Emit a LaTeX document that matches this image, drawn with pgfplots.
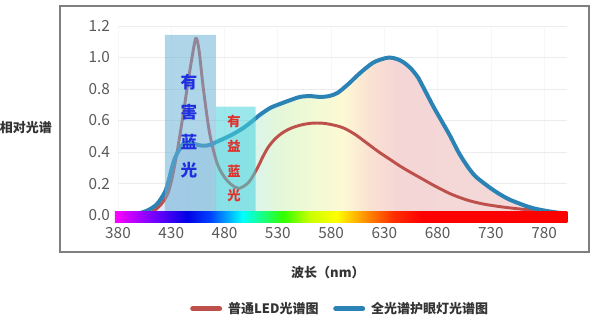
\documentclass[border=0pt]{standalone}
\usepackage{fontspec}
\setmainfont{Noto Sans CJK SC}
\usepackage{pgfplots}
\pgfplotsset{compat=1.18}

\definecolor{redc}{HTML}{BE504B}
\definecolor{bluec}{HTML}{2A82B5}
\definecolor{boxblue}{RGB}{110,178,214}
\definecolor{boxcyan}{RGB}{72,212,220}
\definecolor{tickc}{HTML}{595959}
\definecolor{framec}{HTML}{7F7F7F}
\definecolor{harmc}{HTML}{1F2FE0}
\definecolor{goodc}{HTML}{E0302A}

\definecolor{sp1}{HTML}{FF00FF}
\definecolor{sp2}{HTML}{8000FF}
\definecolor{sp3}{HTML}{0000E6}
\definecolor{sp4}{HTML}{0040FF}
\definecolor{sp5}{HTML}{00FFFF}
\definecolor{sp6}{HTML}{30FF00}
\definecolor{sp7}{HTML}{C8FF00}
\definecolor{sp8}{HTML}{FFFF00}
\definecolor{sp9}{HTML}{FF9900}
\definecolor{sp10}{HTML}{FF3000}
\definecolor{sp11}{HTML}{FF0000}
\pgfdeclarehorizontalshading{spectrum}{100bp}{color(0bp)=(sp1); color(25bp)=(sp1); color(28.9bp)=(sp2); color(33bp)=(sp3); color(35.5bp)=(sp4); color(39.1bp)=(sp5); color(43.6bp)=(sp6); color(46.5bp)=(sp7); color(49.5bp)=(sp8); color(52.4bp)=(sp9); color(55.7bp)=(sp10); color(58.9bp)=(sp11); color(75bp)=(sp11); color(100bp)=(sp11)}

\definecolor{pp1}{HTML}{F0E8F8}
\definecolor{pp2}{HTML}{DDE8F8}
\definecolor{pp3}{HTML}{D8F4F0}
\definecolor{pp4}{HTML}{E4F7D8}
\definecolor{pp5}{HTML}{F0FAD4}
\definecolor{pp6}{HTML}{FDF9D4}
\definecolor{pp7}{HTML}{FAE2D2}
\definecolor{pp8}{HTML}{F5D6D6}
\definecolor{pp9}{HTML}{F3D8D8}
\pgfdeclarehorizontalshading{palespec}{100bp}{color(0bp)=(pp1); color(25bp)=(pp1); color(32.2bp)=(pp2); color(39.5bp)=(pp3); color(43.1bp)=(pp4); color(46.7bp)=(pp5); color(50.3bp)=(pp6); color(53.3bp)=(pp7); color(56.3bp)=(pp8); color(75bp)=(pp9); color(100bp)=(pp9)}

\pgfplotstableread{
x y
380 0
390 0.002
400 0.012
408 0.03
416 0.065
421 0.11
425 0.16
428 0.23
431 0.31
434 0.37
438 0.42
441 0.45
445 0.46
450 0.455
455 0.445
460 0.44
466 0.445
476 0.475
487 0.51
497 0.55
505 0.59
513 0.635
523 0.68
532 0.705
542 0.73
551 0.75
560 0.755
570 0.75
578 0.755
586 0.775
596 0.83
607 0.90
619 0.965
628 0.99
635 1.0
642 0.99
648 0.97
655 0.93
661 0.88
664 0.845
676 0.69
684 0.595
692 0.50
700 0.395
708 0.31
715 0.25
723 0.205
731 0.165
739 0.13
747 0.10
755 0.078
762 0.06
770 0.043
780 0.029
790 0.018
797 0.012
}\fullspec

\pgfplotstableread{
x y
380 0
395 0.002
405 0.006
412 0.02
418 0.05
423 0.09
427 0.14
431 0.24
436 0.42
441 0.63
445 0.81
449 0.98
453 1.12
456 1.05
460 0.81
466 0.52
473 0.33
480 0.24
487 0.19
494 0.17
503 0.21
511 0.30
516 0.37
521 0.43
527 0.48
534 0.52
542 0.55
552 0.572
562 0.583
572 0.583
582 0.572
592 0.552
603 0.51
614 0.455
625 0.40
635 0.355
645 0.31
655 0.27
665 0.232
676 0.19
692 0.135
708 0.095
723 0.07
740 0.052
755 0.04
770 0.03
785 0.018
795 0.01
}\ledspec

\begin{document}
\begin{tikzpicture}
\path[use as bounding box] (-88.5pt,-78.8pt) rectangle (358.5pt,167.2pt);
\draw[framec, line width=1.1pt] (-43.5pt,-21.8pt) rectangle (353.25pt,162.7pt);
\begin{axis}[
  at={(0,0)}, anchor=south west,
  scale only axis, width=337.1pt, height=147.7pt,
  xmin=380, xmax=802, ymin=-0.05, ymax=1.2,
  clip=false,
  axis line style={draw=none},
  major tick length=0pt,
  xtick={380,430,480,530,580,630,680,730,780},
  ytick={0,0.2,0.4,0.6,0.8,1.0,1.2},
  xmajorgrids, ymajorgrids,
  x grid style={gray!6},
  y grid style={gray!15},
  /pgf/number format/assume math mode=true,
  /pgf/number format/1000 sep={},
  ticklabel style={font=\fontsize{11.5}{12}\selectfont, text=tickc},
  yticklabel style={xshift=-2.5pt, /pgf/number format/fixed, /pgf/number format/fixed zerofill, /pgf/number format/precision=1},
  xlabel={波长（nm）},
  xlabel style={at={(axis description cs:0.467,-0.2525)}, anchor=center, font=\bfseries\fontsize{9.75}{10}\selectfont, text=black!80},
  ylabel={相对光谱},
  ylabel style={rotate=-90, at={(axis description cs:-0.2047,0.482)}, anchor=center, font=\bfseries\fontsize{9.75}{10}\selectfont, text=black!80},
  legend columns=2,
  legend image code/.code={\draw[#1, line width=3.75pt, line cap=round] (1.9pt,0pt) -- (22.1pt,0pt);},
  legend style={draw=none, fill=none, inner sep=0pt, at={(0.160,-0.436)}, anchor=west,
    font=\bfseries\fontsize{9.75}{10}\selectfont, text=black!80,
    nodes={inner sep=0pt}, column sep=4.5pt,
    /tikz/every even column/.append style={column sep=11pt}},
]
% pale spectrum area under full-spectrum curve
\addplot[draw=none, shade, shading=palespec, smooth, forget plot] table {\fullspec} \closedcycle;
% ordinary LED
\addplot[redc, line width=2.2pt, smooth] table {\ledspec};
\addlegendentry{普通LED光谱图}
% full spectrum
\addplot[bluec, line width=3pt, smooth] table {\fullspec};
\addlegendentry{全光谱护眼灯光谱图}
% highlight boxes
\addplot[draw=none, fill=boxblue, fill opacity=0.55, forget plot] coordinates {(424,0)(424,1.143)(472,1.143)(472,0)} \closedcycle;
\addplot[draw=none, fill=boxcyan, fill opacity=0.55, forget plot] coordinates {(472,0)(472,0.688)(509.3,0.688)(509.3,0)} \closedcycle;
% spectrum bar
\shade[shading=spectrum] (axis cs:377,-0.05) rectangle (axis cs:802,0.02);
% labels
\begin{scope}[every node/.style={font=\bfseries\fontsize{12.5}{13}\selectfont, text=harmc, inner sep=0pt}]
\node at (axis cs:446.7,0.846) {有};
\node at (axis cs:446.7,0.656) {害};
\node at (axis cs:446.7,0.465) {蓝};
\node at (axis cs:446.7,0.286) {光};
\end{scope}
\begin{scope}[every node/.style={font=\bfseries\fontsize{10}{11}\selectfont, text=goodc, inner sep=0pt}]
\node at (axis cs:488.9,0.592) {有};
\node at (axis cs:488.9,0.434) {益};
\node at (axis cs:488.9,0.275) {蓝};
\node at (axis cs:488.9,0.127) {光};
\end{scope}
\end{axis}
\end{tikzpicture}
\end{document}
